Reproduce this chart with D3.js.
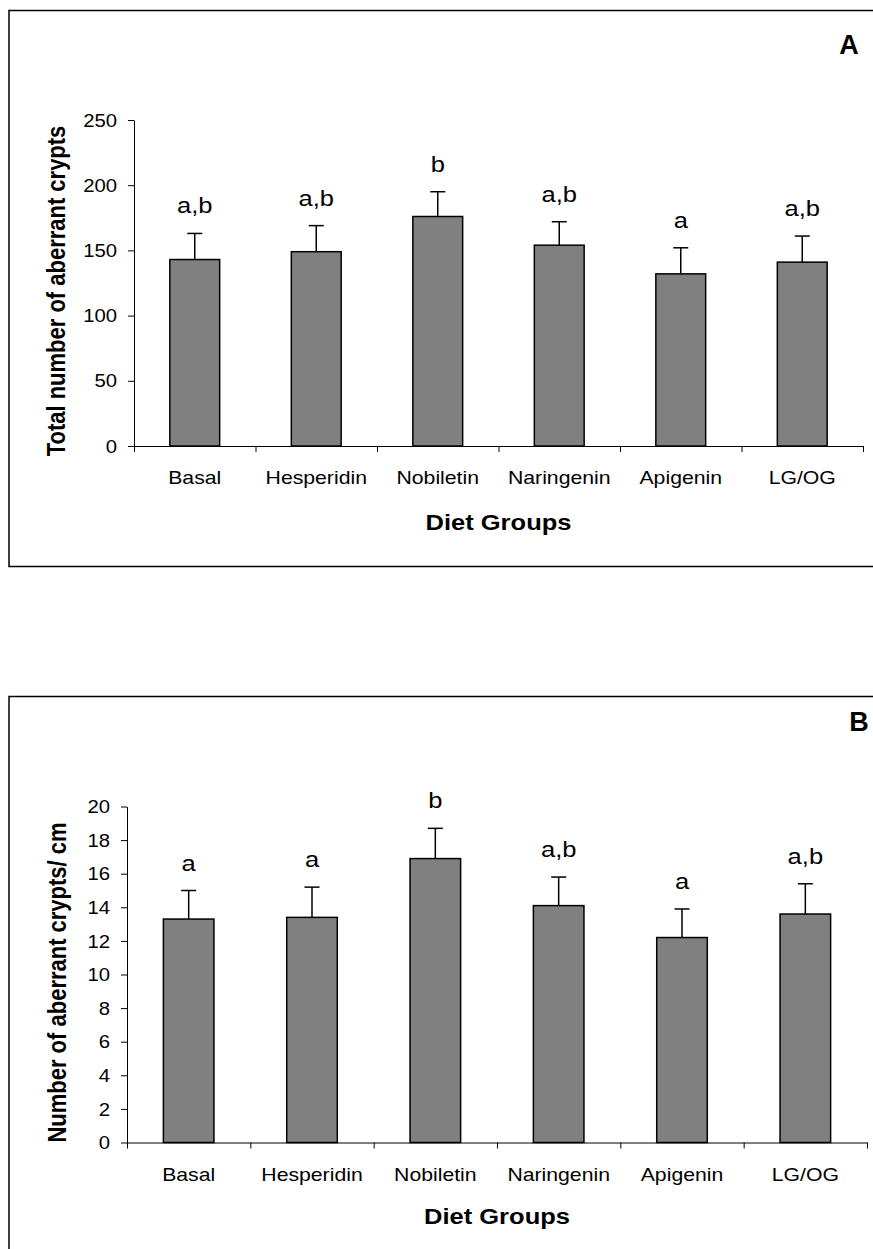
<!DOCTYPE html>
<html>
<head>
<meta charset="utf-8">
<script src="https://cdn.jsdelivr.net/npm/d3@7"></script>
<style>
  body { margin: 0; background: #fff; }
  svg { display: block; }
  text { font-family: "Liberation Sans", Arial, sans-serif; fill: #000; }
</style>
</head>
<body>
<script>
// Diet groups on the x axis
const groups = ['Basal', 'Hesperidin', 'Nobiletin', 'Naringenin', 'Apigenin', 'LG/OG'];

// Panel A: total number of aberrant crypts (mean, error)
const totalMeans = [143, 149, 176, 154, 132, 141];
const totalErrors = [20, 20, 19, 18, 20, 20];
const totalLetters = ['a,b', 'a,b', 'b', 'a,b', 'a', 'a,b'];
const totalTicks = [0, 50, 100, 150, 200, 250];

// Panel B: number of aberrant crypts per cm (mean, error)
const perCmMeans = [13.3, 13.4, 16.9, 14.1, 12.2, 13.6];
const perCmErrors = [1.7, 1.8, 1.8, 1.7, 1.7, 1.8];
const perCmLetters = ['a', 'a', 'b', 'a,b', 'a', 'a,b'];
const perCmTicks = [0, 2, 4, 6, 8, 10, 12, 14, 16, 18, 20];

// the text in the figure is a bit wider than it is tall
const stretch = 1.16;

let svg = d3.select('body').append('svg')
    .attr('width', 873)
    .attr('height', 1249);

drawPanel({
    means: totalMeans, errors: totalErrors, letters: totalLetters, ticks: totalTicks,
    left: 134, right: 863, top: 120, bottom: 446,
    frameTop: 10.5, frameHeight: 556,
    tag: 'A', tagX: 849, tagY: 54,
    ylabel: 'Total number of aberrant crypts', ylabelX: 65,
    xlabelY: 530
});

drawPanel({
    means: perCmMeans, errors: perCmErrors, letters: perCmLetters, ticks: perCmTicks,
    left: 127, right: 867, top: 806.5, bottom: 1142.5,
    frameTop: 696.5, frameHeight: 600,
    tag: 'B', tagX: 859, tagY: 731,
    ylabel: 'Number of aberrant crypts/ cm', ylabelX: 66,
    xlabelY: 1223.5
});

function drawPanel(cfg){
    let g = svg.append('g');

    // outer frame of the panel (runs off the right / bottom edge)
    g.append('rect')
        .attr('x', 9).attr('y', cfg.frameTop)
        .attr('width', 900).attr('height', cfg.frameHeight)
        .attr('fill', 'none').attr('stroke', '#000').attr('stroke-width', 1.5);

    let x = d3.scaleBand().domain(groups).range([cfg.left, cfg.right]);
    let y = d3.scaleLinear()
        .domain([0, d3.max(cfg.ticks)])
        .range([cfg.bottom, cfg.top]);

    // y axis
    let yAxis = g.append('g')
        .attr('transform', 'translate(' + cfg.left + ',0)')
        .call(d3.axisLeft(y).tickValues(cfg.ticks).tickSizeInner(6).tickSizeOuter(0));
    yAxis.selectAll('text')
        .attr('x', -17 / stretch)
        .attr('dy', '0.35em')
        .attr('transform', 'scale(' + stretch + ',1)')
        .style('font-size', '17.5px');

    // x axis: line with ticks between the groups
    let edges = d3.scaleLinear().domain([0, groups.length]).range([cfg.left, cfg.right]);
    g.append('g')
        .attr('transform', 'translate(0,' + cfg.bottom + ')')
        .call(d3.axisBottom(edges).tickValues(d3.range(groups.length + 1)).tickSizeInner(6).tickSizeOuter(0).tickFormat(''));

    let xAxis = g.append('g')
        .attr('transform', 'translate(0,' + cfg.bottom + ')')
        .call(d3.axisBottom(x).tickSize(0));
    xAxis.select('.domain').remove();
    xAxis.selectAll('text')
        .attr('y', 38.5)
        .attr('dy', 0)
        .attr('transform', 'scale(' + stretch + ',1)')
        .style('font-size', '18.3px');

    g.selectAll('.domain, .tick line').attr('stroke', '#000');

    let rows = groups.map((name, i) => ({name: name, mean: cfg.means[i], err: cfg.errors[i], letter: cfg.letters[i]}));
    let barW = x.bandwidth() * 0.41;
    let cx = d => x(d.name) + x.bandwidth() / 2;

    // error bars (upper only) drawn behind the bars
    g.selectAll('line.err')
        .data(rows).enter()
        .append('line')
            .attr('x1', cx).attr('x2', cx)
            .attr('y1', d => y(d.mean)).attr('y2', d => y(d.mean + d.err))
            .attr('stroke', '#000').attr('stroke-width', 1.5);
    g.selectAll('line.cap')
        .data(rows).enter()
        .append('line')
            .attr('x1', d => cx(d) - 7.5).attr('x2', d => cx(d) + 7.5)
            .attr('y1', d => y(d.mean + d.err)).attr('y2', d => y(d.mean + d.err))
            .attr('stroke', '#000').attr('stroke-width', 1.5);

    // bars
    g.selectAll('rect.bar')
        .data(rows).enter()
        .append('rect')
            .attr('x', d => cx(d) - barW / 2)
            .attr('y', d => y(d.mean))
            .attr('width', barW)
            .attr('height', d => y(0) - y(d.mean))
            .attr('fill', '#808080')
            .attr('stroke', '#000').attr('stroke-width', 1.5);

    // significance letters above the error bars
    g.selectAll('text.letter')
        .data(rows).enter()
        .append('text')
            .attr('transform', d => 'translate(' + cx(d) + ',' + (y(d.mean + d.err) - 20) + ') scale(' + stretch + ',1)')
            .attr('text-anchor', 'middle')
            .style('font-size', '22px')
            .text(d => d.letter);

    // axis titles
    let midX = (cfg.left + cfg.right) / 2;
    let midY = (cfg.top + cfg.bottom) / 2 + 8;
    g.append('text')
        .attr('transform', 'translate(' + midX + ',' + cfg.xlabelY + ') scale(' + stretch + ',1)')
        .attr('text-anchor', 'middle')
        .style('font-size', '22px').style('font-weight', 'bold')
        .text('Diet Groups');
    g.append('text')
        .attr('transform', 'translate(' + cfg.ylabelX + ',' + midY + ') scale(' + stretch + ',1) rotate(-90)')
        .attr('text-anchor', 'middle')
        .style('font-size', '22px').style('font-weight', 'bold')
        .text(cfg.ylabel);

    // panel tag
    g.append('text')
        .attr('x', cfg.tagX).attr('y', cfg.tagY)
        .attr('text-anchor', 'middle')
        .style('font-size', '27px').style('font-weight', 'bold')
        .text(cfg.tag);
}
</script>
</body>
</html>
